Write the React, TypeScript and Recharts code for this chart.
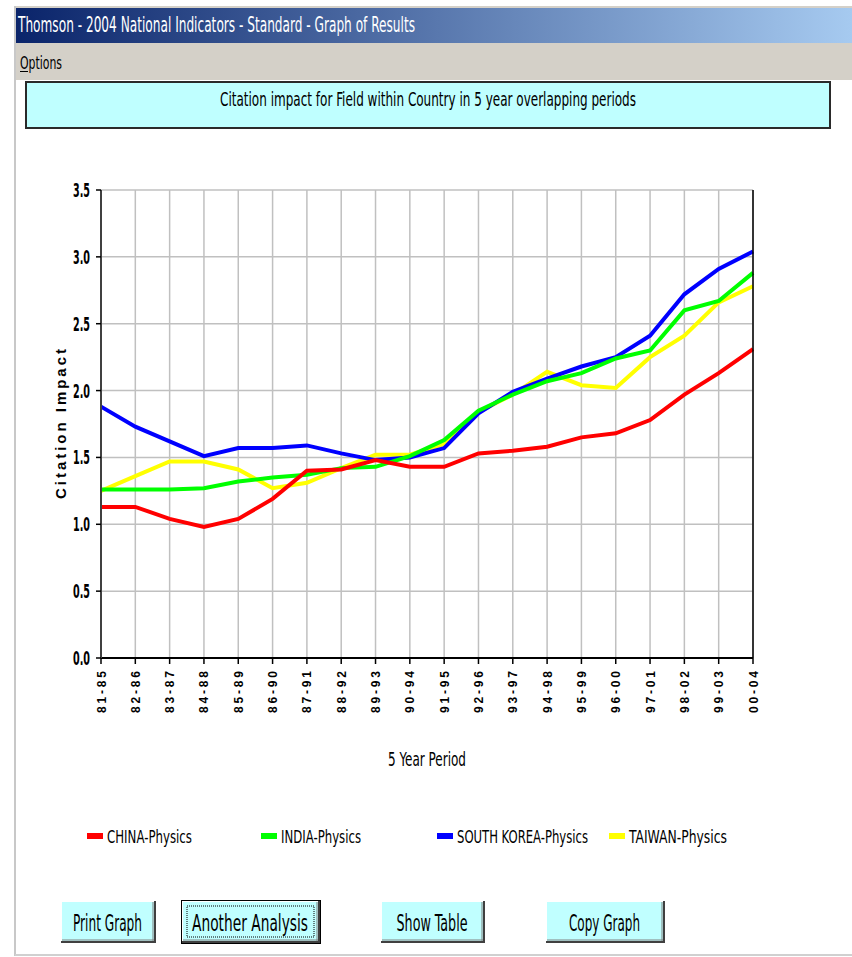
import React from "react";
import { LineChart, Line, XAxis, YAxis, CartesianGrid } from "recharts";

const periods = [
  "81-85", "82-86", "83-87", "84-88", "85-89", "86-90", "87-91", "88-92", "89-93", "90-94",
  "91-95", "92-96", "93-97", "94-98", "95-99", "96-00", "97-01", "98-02", "99-03", "00-04",
];

const china = [1.13, 1.13, 1.04, 0.98, 1.04, 1.19, 1.4, 1.41, 1.48, 1.43, 1.43, 1.53, 1.55, 1.58, 1.65, 1.68, 1.78, 1.97, 2.13, 2.31];
const india = [1.26, 1.26, 1.26, 1.27, 1.32, 1.35, 1.37, 1.42, 1.43, 1.51, 1.63, 1.85, 1.97, 2.07, 2.13, 2.24, 2.3, 2.6, 2.67, 2.88];
const southKorea = [1.88, 1.73, 1.62, 1.51, 1.57, 1.57, 1.59, 1.53, 1.48, 1.5, 1.57, 1.83, 1.99, 2.09, 2.18, 2.25, 2.41, 2.72, 2.91, 3.04];
const taiwan = [1.25, 1.36, 1.47, 1.47, 1.41, 1.27, 1.31, 1.42, 1.52, 1.52, 1.6, 1.84, 1.97, 2.14, 2.04, 2.02, 2.25, 2.41, 2.66, 2.78];

const yTicks = [0, 0.5, 1, 1.5, 2, 2.5, 3, 3.5];

const series = [
  { key: "china", name: "CHINA-Physics", color: "#ff0000", values: china },
  { key: "india", name: "INDIA-Physics", color: "#00ff00", values: india },
  { key: "southKorea", name: "SOUTH KOREA-Physics", color: "#0000ff", values: southKorea },
  { key: "taiwan", name: "TAIWAN-Physics", color: "#ffff00", values: taiwan },
];

// legend slots (x of swatch, text width)
const legendPos = [
  { x: 87, w: 85 },
  { x: 261, w: 80 },
  { x: 437, w: 131 },
  { x: 609, w: 98 },
];

const buttons = [
  { label: "Print Graph", x: 61, w: 95, tw: 69 },
  { label: "Another Analysis", x: 182, w: 138, tw: 116, focused: true },
  { label: "Show Table", x: 381, w: 104, tw: 71 },
  { label: "Copy Graph", x: 546, w: 119, tw: 71 },
];

const data = periods.map((p, i) => {
  const row: any = { period: p };
  series.forEach((s) => (row[s.key] = s.values[i]));
  return row;
});

const NARROW = "'Liberation Sans Narrow', 'DejaVu Sans Condensed', 'Liberation Sans', sans-serif";
const WIDE = "'Liberation Sans', 'DejaVu Sans', sans-serif";

function FitText({ x, y, w, size, text, anchor = "start", weight = "normal", family = NARROW, fill = "#000", adjust = "spacingAndGlyphs", transform }: any) {
  return (
    <text
      x={x}
      y={y}
      fontSize={size}
      fontFamily={family}
      fontWeight={weight}
      fill={fill}
      textAnchor={anchor}
      textLength={w}
      lengthAdjust={adjust}
      transform={transform}
    >
      {text}
    </text>
  );
}

const LeftTick = ({ x, y, payload }: any) => (
  <FitText x={x} y={y + 7} w={17} size={20} weight="bold" anchor="end" text={Number(payload.value).toFixed(1)} />
);

const RightTick = ({ x, y, payload }: any) => (
  <FitText x={x} y={y + 7} w={17} size={20} weight="bold" anchor="start" text={Number(payload.value).toFixed(1)} />
);

const XTick = ({ x, y, payload }: any) => {
  const tx = x + 4.5;
  const ty = y + 5;
  return (
    <FitText
      x={tx}
      y={ty}
      w={42}
      size={12}
      weight="bold"
      family={WIDE}
      anchor="end"
      adjust="spacing"
      transform={`rotate(-90, ${tx}, ${ty})`}
      text={payload.value}
    />
  );
};

const yTitle = (props: any) => {
  const vb = props.viewBox || { x: 0, y: 190, width: 101, height: 468 };
  const cx = vb.x + 66;
  const cy = vb.y + vb.height / 2;
  return (
    <FitText
      x={cx}
      y={cy}
      w={150}
      size={15}
      weight="bold"
      family={WIDE}
      anchor="middle"
      adjust="spacing"
      transform={`rotate(-90, ${cx}, ${cy})`}
      text="Citation Impact"
    />
  );
};

const xTitle = (props: any) => {
  const vb = props.viewBox || { x: 101, y: 658, width: 652, height: 122 };
  return <FitText x={vb.x + vb.width / 2} y={vb.y + 108} w={78} size={20} anchor="middle" text="5 Year Period" />;
};

function Button({ label, x, w, tw, focused }: any) {
  const y = 901;
  const h = 42;
  return (
    <g>
      {focused && <rect x={x - 1} y={y - 1} width={w + 2} height={h + 2} fill="#000" />}
      <rect x={x} y={y} width={w} height={h} fill="#c0ffff" />
      <line x1={x} y1={y + 0.5} x2={x + w} y2={y + 0.5} stroke="#ffffff" />
      <line x1={x + 0.5} y1={y} x2={x + 0.5} y2={y + h} stroke="#ffffff" />
      <line x1={x} y1={y + h - 1} x2={x + w} y2={y + h - 1} stroke="#404040" strokeWidth={2} />
      <line x1={x + w - 1} y1={y} x2={x + w - 1} y2={y + h} stroke="#404040" strokeWidth={2} />
      <line x1={x + 1} y1={y + h - 3} x2={x + w - 2} y2={y + h - 3} stroke="#808080" />
      <line x1={x + w - 3} y1={y + 1} x2={x + w - 3} y2={y + h - 2} stroke="#808080" />
      {focused && (
        <rect x={x + 5} y={y + 5} width={w - 11} height={h - 11} fill="none" stroke="#000" strokeDasharray="1 1" />
      )}
      <FitText x={x + w / 2 - 1} y={y + 30} w={tw} size={23} anchor="middle" text={label} />
    </g>
  );
}

export default function App() {
  return (
    <div style={{ position: "absolute", left: 0, top: 0, width: 852, height: 957, background: "#fff", overflow: "hidden" }}>
      <svg width={852} height={957} style={{ position: "absolute", left: 0, top: 0 }}>
        <defs>
          <linearGradient id="tb" x1="0" y1="0" x2="1" y2="0">
            <stop offset="0" stopColor="#0a246a" />
            <stop offset="1" stopColor="#a6caf0" />
          </linearGradient>
        </defs>
        <rect x={14} y={6} width={838} height={2} fill="#d4d0c8" />
        <rect x={16} y={8} width={836} height={35} fill="url(#tb)" />
        <FitText x={18} y={32} w={397} size={21} fill="#fff" text="Thomson - 2004 National Indicators - Standard - Graph of Results" />
        <rect x={16} y={43} width={836} height={37} fill="#d4d0c8" />
        <FitText x={20} y={69} w={42} size={17} text="Options" />
        <line x1={20} y1={71.5} x2={28} y2={71.5} stroke="#000" />
        <line x1={15} y1={6} x2={15} y2={956} stroke="#c8c8c8" strokeWidth={2} />
        <line x1={15} y1={955} x2={852} y2={955} stroke="#d0d0d0" strokeWidth={2} />

        <rect x={26} y={82} width={804} height={46} fill="#bfffff" stroke="#2a2a2a" strokeWidth={2} />
        <FitText x={428} y={106} w={416} size={20} anchor="middle" text="Citation impact for Field within Country in 5 year overlapping periods" />

        {series.map((s, i) => (
          <g key={s.key}>
            <rect x={legendPos[i].x} y={833} width={16} height={6} fill={s.color} />
            <FitText x={legendPos[i].x + 20} y={843} w={legendPos[i].w} size={18} text={s.name} />
          </g>
        ))}

        {buttons.map((b) => (
          <Button key={b.label} {...b} />
        ))}
      </svg>

      <div style={{ position: "absolute", left: 0, top: 150 }}>
        <LineChart width={852} height={630} data={data} margin={{ top: 40, right: 0, bottom: 0, left: 0 }}>
          <CartesianGrid stroke="#c0c0c0" strokeWidth={1.5} />
          <XAxis
            dataKey="period"
            scale="point"
            padding={{ left: 0, right: 0 }}
            height={122}
            interval={0}
            tickSize={6}
            tickLine={{ stroke: "#000", strokeWidth: 1.5 }}
            axisLine={{ stroke: "#000", strokeWidth: 2 }}
            tick={<XTick />}
            label={xTitle}
          />
          <YAxis
            domain={[0, 3.5]}
            ticks={yTicks}
            width={101}
            tickSize={5}
            tickMargin={6}
            tickLine={{ stroke: "#000", strokeWidth: 1.5 }}
            axisLine={{ stroke: "#404040", strokeWidth: 2 }}
            tick={<LeftTick />}
            label={yTitle}
          />
          <YAxis
            yAxisId="right"
            orientation="right"
            domain={[0, 3.5]}
            ticks={yTicks}
            width={99}
            tickSize={5}
            tickMargin={6}
            tickLine={{ stroke: "#000", strokeWidth: 1.5 }}
            axisLine={{ stroke: "#000", strokeWidth: 1.5 }}
            tick={<RightTick />}
          />
          {[series[3], series[2], series[1], series[0]].map((s) => (
            <Line
              key={s.key}
              dataKey={s.key}
              name={s.name}
              type="linear"
              stroke={s.color}
              strokeWidth={4}
              dot={false}
              isAnimationActive={false}
            />
          ))}
        </LineChart>
      </div>
    </div>
  );
}
